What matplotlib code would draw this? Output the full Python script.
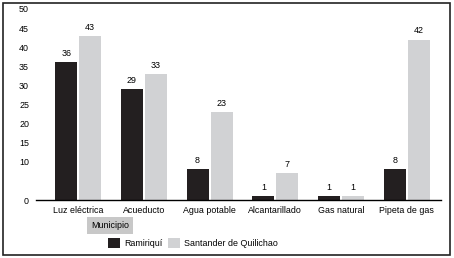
import matplotlib.pyplot as plt
from matplotlib.patches import Rectangle
import numpy as np

plt.rcParams['font.family'] = ['Liberation Sans Narrow', 'Liberation Sans', 'DejaVu Sans']

servicios = ['Luz eléctrica', 'Acueducto', 'Agua potable', 'Alcantarillado', 'Gas natural', 'Pipeta de gas']
ramiriqui = [36, 29, 8, 1, 1, 8]
santander = [43, 33, 23, 7, 1, 42]
yticks = [0, 10, 15, 20, 25, 30, 35, 40, 45, 50]

negro = '#231f20'
gris = '#d1d2d4'
fs = 6.4

fig = plt.figure(figsize=(4.54, 2.58), dpi=100)
ax = fig.add_axes([36/454, 1-200/258, (441-36)/454, (200-9)/258])

x = np.arange(len(servicios))
w = 0.335
b1 = ax.bar(x - 0.182, ramiriqui, w, color=negro, label='Ramiriquí')
b2 = ax.bar(x + 0.182, santander, w, color=gris, label='Santander de Quilichao')
ax.bar_label(b1, padding=3, fontsize=fs)
ax.bar_label(b2, padding=3, fontsize=fs)

ax.set_xlim(-0.64, 5.52)
ax.set_ylim(0, 50)
ax.set_yticks(yticks)
ax.set_xticks(x)
ax.set_xticklabels(servicios)
ax.tick_params(axis='both', length=0, labelsize=fs)
ax.tick_params(axis='x', pad=4)
ax.tick_params(axis='y', pad=5)
for s in ['top', 'right', 'left']:
    ax.spines[s].set_visible(False)
ax.spines['bottom'].set_linewidth(1)

fig.text(110/454, 1-225/258, 'Municipio', fontsize=fs, ha='center', va='center',
         bbox=dict(boxstyle='square,pad=0.45', fc='#c8c8c8', ec='none'))
fig.legend(handles=[b1, b2], loc='center left', bbox_to_anchor=(100/454, 1-243/258),
           ncol=2, frameon=False, fontsize=fs, handlelength=1.3, handleheight=1.3,
           columnspacing=0.7, handletextpad=0.5)

fig.patches.append(Rectangle((3/454, 3/258), 447/454, 252/258, transform=fig.transFigure,
                             fill=False, ec='#222222', lw=1.2))

fig.savefig('out.png', dpi=100)
